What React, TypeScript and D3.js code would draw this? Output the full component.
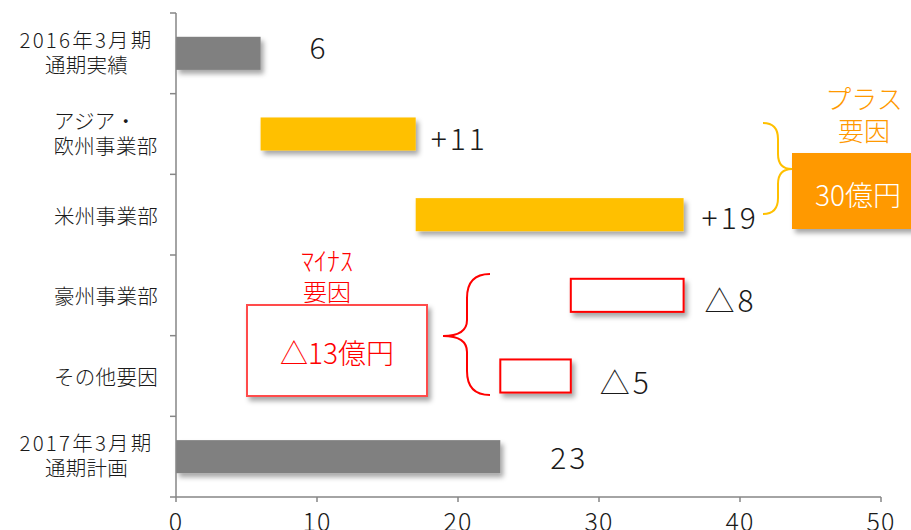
import React from "react";
import * as d3 from "d3";

const categories: string[][] = [
  ["2016年3月期", "通期実績"],
  ["アジア・\u3000", "欧州事業部"],
  ["米州事業部"],
  ["豪州事業部"],
  ["その他要因"],
  ["2017年3月期", "通期計画"],
];
const barStarts = [0, 6, 17, 28, 23, 0];
const barEnds = [6, 17, 36, 36, 28, 23];
const barKinds = ["total", "plus", "plus", "minus", "minus", "total"];
const valueLabels = ["6", "+11", "+19", "△8", "△5", "23"];
const xTicks = [0, 10, 20, 30, 40, 50];
const plusTitle = ["プラス", "要因"];
const plusTotal = "30億円";
const minusTitle = ["ﾏｲﾅｽ", "要因"];
const minusTotal = "△13億円";

const W = 911;
const H = 530;
const FONT = "'Noto Sans CJK JP', 'Noto Sans', sans-serif";

export default function App() {
  const x = d3.scaleLinear().domain([0, 50]).range([176, 881]);
  const y = d3
    .scaleBand<number>()
    .domain(d3.range(categories.length))
    .range([13, 497])
    .padding(0);
  const step = y.step();
  const barH = step * 0.41;
  const axisY = 497;
  const axisColor = "#868686";

  const colorOf = (k: string) =>
    k === "total" ? "#808080" : k === "plus" ? "#FFC000" : "#FFFFFF";

  const labelDx = [49, 15, 18, 21, 29, 50];
  const labelDy = [-7, 3, 1, 4, 5, -1];

  const yc = (i: number) => (y(i) as number) + step / 2;

  return (
    <svg width={W} height={H} style={{ position: "absolute", left: 0, top: 0, fontFamily: FONT }}>
      <defs>
        <filter id="sh" x="-20%" y="-30%" width="150%" height="180%">
          <feDropShadow dx="3" dy="4" stdDeviation="2.5" floodColor="#000" floodOpacity="0.35" />
        </filter>
      </defs>
      <rect width={W} height={H} fill="#fff" />

      {/* bars */}
      {barStarts.map((s, i) => {
        const k = barKinds[i];
        const bx = x(s);
        const bw = x(barEnds[i]) - x(s);
        const by = yc(i) - barH / 2;
        return (
          <rect
            key={i}
            x={bx}
            y={by}
            width={bw}
            height={barH}
            fill={colorOf(k)}
            stroke={k === "minus" ? "#FF0000" : "none"}
            strokeWidth={k === "minus" ? 2 : 0}
            filter="url(#sh)"
          />
        );
      })}

      {/* value labels */}
      {valueLabels.map((t, i) => (
        <text
          key={i}
          x={x(barEnds[i]) + labelDx[i]}
          y={yc(i) + labelDy[i]}
          dominantBaseline="central"
          fontSize={30}
          fontWeight={300}
          letterSpacing={3}
          fill="#1a1a1a"
        >
          {t}
        </text>
      ))}

      {/* y axis */}
      <line x1={176} x2={176} y1={13} y2={axisY} stroke={axisColor} strokeWidth={1.5} />
      {d3.range(categories.length + 1).map((i) => {
        const ty = 13 + i * step;
        return <line key={i} x1={170} x2={176} y1={ty} y2={ty} stroke={axisColor} strokeWidth={1.5} />;
      })}
      {categories.map((lines, i) => {
        const lh = 25;
        const c = yc(i);
        const top = c - ((lines.length - 1) * lh) / 2 - (lines.length > 1 ? 2 : 0);
        return (
          <text
            key={"c" + i}
            fontSize={20.5}
            fontWeight={300}
            fill="#1a1a1a"
            dominantBaseline="central"
            textAnchor={lines.length > 1 ? "middle" : "end"}
          >
            {lines.map((l, j) => (
              <tspan
                key={j}
                x={lines.length > 1 ? (i === 1 ? 105.5 : 86.5) : 158}
                y={top + j * lh}
                letterSpacing={/\d/.test(l) ? 2.2 : 0.3}
              >
                {l}
              </tspan>
            ))}
          </text>
        );
      })}

      {/* x axis */}
      <line x1={176} x2={881} y1={axisY} y2={axisY} stroke={axisColor} strokeWidth={1.5} />
      {xTicks.map((t) => (
        <g key={t}>
          <line x1={x(t)} x2={x(t)} y1={axisY} y2={axisY + 5} stroke={axisColor} strokeWidth={1.5} />
          <text x={x(t)} y={axisY + 34} textAnchor="middle" fontSize={25} fontWeight={300} letterSpacing={1} fill="#1a1a1a">
            {t}
          </text>
        </g>
      ))}

      {/* plus annotation */}
      <path
        d="M763,123 Q778,123 778,139 L778,154 Q778,169 792,169 Q778,169 778,184 L778,198 Q778,214 763,214"
        fill="none"
        stroke="#FFC000"
        strokeWidth={2}
      />
      <rect x={792} y={153} width={140} height={76} fill="#FF9900" filter="url(#sh)" />
      <text x={858} y={194} textAnchor="middle" dominantBaseline="central" fontSize={28} fontWeight={300} fill="#fff">
        {plusTotal}
      </text>
      {plusTitle.map((t, j) => (
        <text
          key={j}
          x={864}
          y={97 + j * 32}
          textAnchor="middle"
          dominantBaseline="central"
          fontSize={26}
          fontWeight={300}
          fill="#FF9900"
        >
          {t}
        </text>
      ))}

      {/* minus annotation */}
      <path
        d="M490,274 Q467,274 467,298 L467,320 Q467,336 443,336 Q467,336 467,352 L467,371 Q467,395 490,395"
        fill="none"
        stroke="#FF0000"
        strokeWidth={2}
      />
      <rect x={247} y={305} width={180} height={91} fill="#fff" stroke="#FF4B4B" strokeWidth={2} filter="url(#sh)" />
      <text x={337} y={352} textAnchor="middle" dominantBaseline="central" fontSize={28} fontWeight={300} fill="#FF0000">
        {minusTotal}
      </text>
      {minusTitle.map((t, j) => (
        <text
          key={j}
          x={327}
          y={259 + j * 31}
          textAnchor="middle"
          dominantBaseline="central"
          fontSize={j === 0 ? 26 : 24}
          fontWeight={300}
          fill="#FF0000"
        >
          {t}
        </text>
      ))}
    </svg>
  );
}
